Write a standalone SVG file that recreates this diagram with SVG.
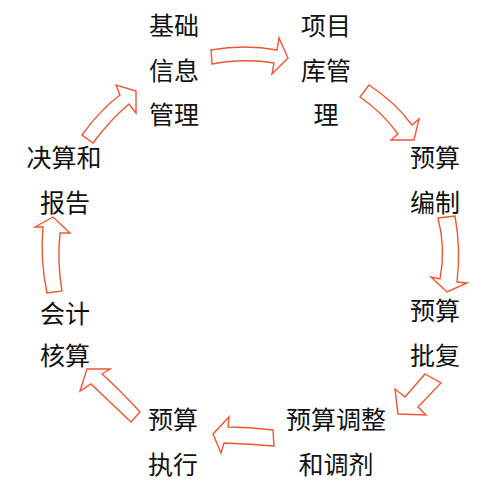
<svg xmlns="http://www.w3.org/2000/svg" width="496" height="500" viewBox="0 0 496 500">
<style>
text{font-family:"Noto Sans CJK SC","Liberation Sans",sans-serif;font-size:25px;fill:#111;text-anchor:middle;dominant-baseline:central}
.arr{fill:#fff;stroke:#EE5533;stroke-width:1.4;stroke-linejoin:miter}
</style>
<rect width="496" height="500" fill="#fff"/>
<g id="connectors">
<path class="arr" d="M211,50 Q245,44 277,50 L279,38 L288,58 L272,74 L274,63 Q245,58 212,64 Z"/>
<path class="arr" d="M369,85 Q395,102 412,125 L419,119 L414,140 L391,140 L398,134 Q382,112 360,97 Z"/>
<path class="arr" d="M438,218 L455,216 Q461,249 457,282 L467,283 L447,292 L431,277 L440,279 Q446,248 438,218 Z"/>
<path class="arr" d="M425,374 L441,383 L418,407 L426,415 L398,414 L395,389 L405,397 Z"/>
<path class="arr" d="M273,430 Q250,427 228,427 L229,417 L213,434 L221,453 L224,443 Q250,444 274,446 Z"/>
<path class="arr" d="M140,412 Q120,390 102,374 L110,369 L87,369 L80,391 L91,384 Q110,402 131,422 Z"/>
<path class="arr" d="M47,293 Q40,260 43,227 L35,227 L53,217 L70,233 L60,233 Q57,262 62,291 Z"/>
<path class="arr" d="M82,135 Q100,110 120,95 L116,85 L136,91 L136,113 L129,104 Q110,120 93,143 Z"/>
</g>
<g id="n1"><text x="174" y="24">基础</text><text x="174" y="69">信息</text><text x="174" y="113">管理</text></g>
<g id="n2"><text x="326" y="24">项目</text><text x="326" y="69">库管</text><text x="326" y="113">理</text></g>
<g id="n3"><text x="435" y="156">预算</text><text x="435" y="201">编制</text></g>
<g id="n4"><text x="435" y="309">预算</text><text x="435" y="354">批复</text></g>
<g id="n5"><text x="336" y="418">预算调整</text><text x="336" y="463">和调剂</text></g>
<g id="n6"><text x="173" y="418">预算</text><text x="173" y="463">执行</text></g>
<g id="n7"><text x="65" y="312">会计</text><text x="65" y="354">核算</text></g>
<g id="n8"><text x="64" y="156">决算和</text><text x="65" y="201">报告</text></g>
</svg>
